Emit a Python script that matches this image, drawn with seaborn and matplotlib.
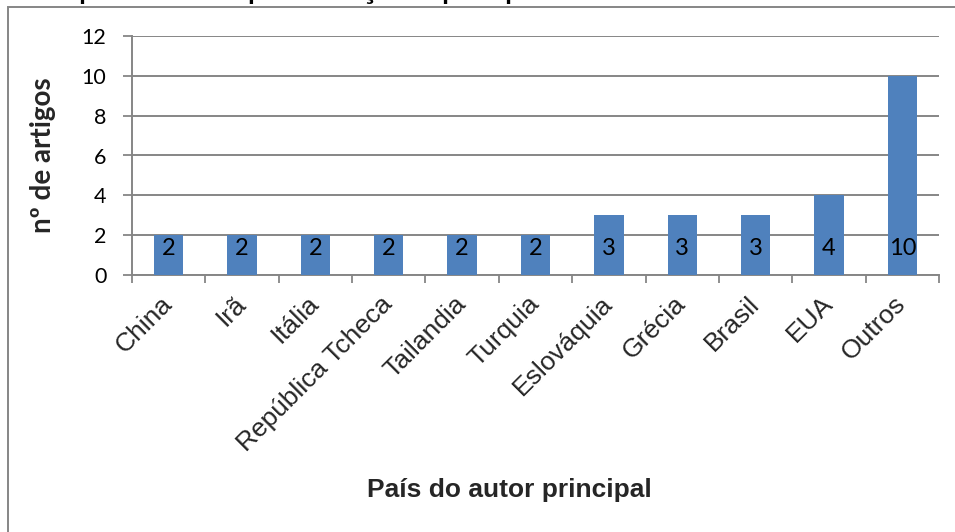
import matplotlib
matplotlib.use("Agg")
import matplotlib.pyplot as plt
from matplotlib.patches import Rectangle
import seaborn as sns
import pandas as pd

# Data: number of articles per country of the main author
paises = ["China", "Irã", "Itália", "República Tcheca", "Tailandia", "Turquia",
          "Eslováquia", "Grécia", "Brasil", "EUA", "Outros"]
artigos = [2, 2, 2, 2, 2, 2, 3, 3, 3, 4, 10]
y_ticks = [0, 2, 4, 6, 8, 10, 12]

titulo = "Frequência de publicações por país"
rotulo_x = "País do autor principal"
rotulo_y = "nº de artigos"

df = pd.DataFrame({"pais": paises, "artigos": artigos})

sns.set_theme(style="white")
plt.rcParams["font.family"] = ["Lato", "DejaVu Sans"]

W, H, DPI = 955, 532, 100
fig = plt.figure(figsize=(W / DPI, H / DPI), dpi=DPI)
fig.patch.set_facecolor("white")

# plot area in pixels: left 132, right 939, top 36, bottom 275
ax = fig.add_axes([132 / W, 1 - 275 / H, (939 - 132) / W, (275 - 36) / H])

GRAY = "#868686"
BAR = "#4F81BD"

sns.barplot(data=df, x="pais", y="artigos", color=BAR, saturation=1,
            width=0.4, ax=ax, zorder=3, linewidth=0, edgecolor=BAR)

ax.set_ylim(0, 12)
ax.set_xlim(-0.5, len(paises) - 0.5)
ax.set_yticks(y_ticks)
ax.set_yticklabels([str(t) for t in y_ticks], fontsize=15.5, color="black",
                   family=["Lato", "DejaVu Sans"])
ax.yaxis.grid(True, color=GRAY, linewidth=1.4, zorder=0)
ax.xaxis.grid(False)
ax.set_axisbelow(True)

for side in ["top", "right"]:
    ax.spines[side].set_visible(False)
for side in ["left", "bottom"]:
    ax.spines[side].set_visible(True)
    ax.spines[side].set_color(GRAY)
    ax.spines[side].set_linewidth(1.4)

ax.tick_params(axis="y", which="major", length=6.5, width=1.3, color=GRAY,
               pad=12, left=True)

# category boundaries carry the tick marks, centers carry the labels
ax.set_xticks([i - 0.5 for i in range(len(paises) + 1)], minor=True)
ax.tick_params(axis="x", which="minor", length=6, width=1.3, color=GRAY,
               bottom=True)
ax.set_xticks(range(len(paises)))
ax.set_xticklabels(paises, rotation=45, ha="right", va="center",
                   rotation_mode="anchor", fontsize=19,
                   family=["Liberation Sans", "DejaVu Sans"])
ax.tick_params(axis="x", which="major", length=0, pad=18)

ax.set_xlabel(rotulo_x, fontsize=19, fontweight="bold",
              family=["Liberation Sans", "DejaVu Sans"], labelpad=0)
ax.xaxis.set_label_coords(509 / W, 1 - 478 / H, transform=fig.transFigure)
ax.set_ylabel(rotulo_y, fontsize=20, fontweight="bold",
              family=["Lato", "DejaVu Sans"])
ax.yaxis.set_label_coords(56 / W, 1 - 155 / H, transform=fig.transFigure)

# value labels placed inside the bars, near the base
for i, v in enumerate(artigos):
    ax.annotate(str(v), xy=(i, 0), xytext=(0, 19), textcoords="offset points",
                ha="center", va="center", fontsize=17, color="black",
                family=["Lato", "DejaVu Sans"], zorder=4)

# chart frame and heading running off the top edge
fig.patches.append(Rectangle((8 / W, -0.1), 1.2, 1 - 7 / H + 0.1,
                             transform=fig.transFigure, fill=False,
                             edgecolor=GRAY, linewidth=1.4))
fig.text(14 / W, 1 + 2 / H, titulo, fontsize=26, va="baseline", ha="left",
         family=["Lato", "DejaVu Sans"], color="black")

fig.savefig("out.png", dpi=DPI, facecolor="white")
